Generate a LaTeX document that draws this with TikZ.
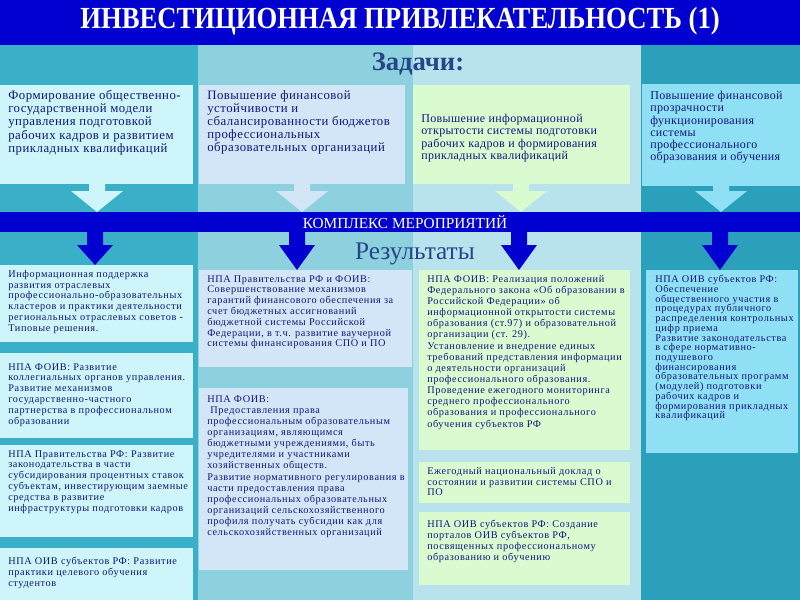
\documentclass[tikz,border=0pt]{standalone}
\usepackage{fontspec}
\usepackage{graphicx}
\setmainfont{Liberation Serif}
\usetikzlibrary{fit,calc}
\definecolor{hdrblue}{RGB}{0,0,208}
\definecolor{colA}{RGB}{58,176,200}
\definecolor{colB}{RGB}{141,208,222}
\definecolor{colC}{RGB}{185,227,236}
\definecolor{colD}{RGB}{43,160,187}
\definecolor{boxA}{RGB}{206,245,249}
\definecolor{boxB}{RGB}{210,230,247}
\definecolor{boxC}{RGB}{218,250,208}
\definecolor{boxD}{RGB}{143,224,244}
\definecolor{navy}{RGB}{16,22,125}
\definecolor{headnavy}{RGB}{38,70,138}
\newcommand\myBlockArrow[7]{\fill[#1] (#2-#6,#3) -- (#2+#6,#3) -- (#2+#6,#4) -- (#2+#7,#4) -- (#2,#5) -- (#2-#7,#4) -- (#2-#6,#4) -- cycle;}
\tikzset{
  panel/.style={inner sep=0pt, outer sep=0pt, draw=none},
  ttext/.style={anchor=north west, inner sep=0pt, align=left, text=navy,
    font=\fontsize{9.6}{9.9}\selectfont\addfontfeature{LetterSpace=4}},
  tsmall/.style={anchor=north west, inner sep=0pt, align=left, text=navy,
    font=\fontsize{9}{9.2}\selectfont\addfontfeature{LetterSpace=3}},
  rtext/.style={anchor=north west, inner sep=0pt, align=left, text=navy,
    font=\fontsize{7.7}{8.1}\selectfont\addfontfeature{LetterSpace=6}},
}
\begin{document}
\begin{tikzpicture}[x=0.75pt,y=-0.75pt]
\useasboundingbox (0,0) rectangle (800,600);
% column backgrounds
\fill[colA] (0,45) rectangle (198,600);
\fill[colB] (198,45) rectangle (413,600);
\fill[colC] (413,45) rectangle (641,600);
\fill[colD] (641,45) rectangle (800,600);
% title
\node[panel, fill=hdrblue, fit={(0,0)(800,45)}] (title) {};
\node[text=white, font=\bfseries\fontsize{23}{23}\selectfont] (titletext) at (400,21)
  {\scalebox{0.87}[1]{ИНВЕСТИЦИОННАЯ ПРИВЛЕКАТЕЛЬНОСТЬ (1)}};
\node[text=headnavy, font=\bfseries\fontsize{20}{20}\selectfont] (tasks) at (418,64) {Задачи:};
% task boxes
\node[panel, fill=boxA, fit={(0,85)(193,184)}] (t1) {};
\node[panel, fill=boxB, fit={(199,85)(405,184)}] (t2) {};
\node[panel, fill=boxC, fit={(413,85)(630,184)}] (t3) {};
\node[panel, fill=boxD, fit={(642,84)(800,186)}] (t4) {};
\node[ttext] (t1x) at (8,90) {Формирование общественно-\\государственной модели\\управления подготовкой\\рабочих кадров и развитием\\прикладных квалификаций};
\node[ttext] (t2x) at (207,90) {Повышение финансовой\\устойчивости и\\сбалансированности бюджетов\\профессиональных\\образовательных организаций};
\node[tsmall] (t3x) at (421,114) {Повышение информационной\\открытости системы подготовки\\рабочих кадров и формирования\\прикладных квалификаций};
\node[tsmall] (t4x) at (650,91) {Повышение финансовой\\прозрачности\\функционирования\\системы\\профессионального\\образования и обучения};
% white arrows
\myBlockArrow{boxA}{97}{184}{191}{212}{8}{26}
\myBlockArrow{boxB}{302}{184}{191}{212}{8}{26}
\myBlockArrow{boxC}{521}{184}{191}{212}{8}{26}
\myBlockArrow{boxD}{721}{186}{191}{212}{8}{26}
% band
\node[panel, fill=hdrblue, fit={(0,212)(800,232)}] (band) {};
\node[text=white, font=\fontsize{11.5}{11.5}\selectfont] (bandtext) at (405,222) {КОМПЛЕКС МЕРОПРИЯТИЙ};
% blue arrows
\myBlockArrow{hdrblue}{95}{232}{245}{265}{8}{18}
\myBlockArrow{hdrblue}{297}{232}{245}{270}{8}{18}
\myBlockArrow{hdrblue}{519}{232}{245}{270}{8}{18}
\myBlockArrow{hdrblue}{720}{232}{245}{270}{8}{18}
\node[text=headnavy, font=\fontsize{19}{19}\selectfont] (results) at (415,254) {Результаты};
% result boxes column 1
\node[panel, fill=boxA, fit={(0,265)(193,342)}] (r1a) {};
\node[panel, fill=boxA, fit={(0,353)(193,438)}] (r1b) {};
\node[panel, fill=boxA, fit={(0,445)(193,537)}] (r1c) {};
\node[panel, fill=boxA, fit={(0,548)(193,600)}] (r1d) {};
\node[rtext] at (8,270) {Информационная поддержка\\развития отраслевых\\профессионально-образовательных\\кластеров и практики деятельности\\региональных отраслевых советов -\\Типовые решения.};
\node[rtext] at (8,363) {НПА ФОИВ: Развитие\\коллегиальных органов управления.\\Развитие механизмов\\государственно-частного\\партнерства в профессиональном\\образовании};
\node[rtext] at (8,450) {НПА Правительства РФ: Развитие\\законодательства в части\\субсидирования процентных ставок\\субъектам, инвестирующим заемные\\средства в развитие\\инфраструктуры подготовки кадров};
\node[rtext] at (8,557) {НПА ОИВ субъектов РФ: Развитие\\практики целевого обучения\\студентов};
% column 2
\node[panel, fill=boxB, fit={(199,270)(412,367)}] (r2a) {};
\node[panel, fill=boxB, fit={(199,388)(408,570)}] (r2b) {};
\node[rtext] at (207,275) {НПА Правительства РФ и ФОИВ:\\Совершенствование механизмов\\гарантий финансового обеспечения за\\счет бюджетных ассигнований\\бюджетной системы Российской\\Федерации, в т.ч. развитие ваучерной\\системы финансирования СПО и ПО};
\node[rtext, font=\fontsize{7.7}{8.35}\selectfont\addfontfeature{LetterSpace=6}] at (207,395) {НПА ФОИВ:\\\ Предоставления права\\профессиональным образовательным\\организациям, являющимся\\бюджетными учреждениями, быть\\учредителями и участниками\\хозяйственных обществ.\\Развитие нормативного регулирования в\\части предоставления права\\профессиональных образовательных\\организаций сельскохозяйственного\\профиля получать субсидии как для\\сельскохозяйственных организаций};
% column 3
\node[panel, fill=boxC, fit={(419,270)(630,450)}] (r3a) {};
\node[panel, fill=boxC, fit={(419,462)(630,503)}] (r3b) {};
\node[panel, fill=boxC, fit={(419,512)(630,585)}] (r3c) {};
\node[rtext, font=\fontsize{7.7}{8.35}\selectfont\addfontfeature{LetterSpace=6}] at (427,275) {НПА ФОИВ: Реализация положений\\Федерального закона «Об образовании в\\Российской Федерации» об\\информационной открытости системы\\образования (ст.97) и образовательной\\организации (ст. 29).\\Установление и внедрение единых\\требований представления информации\\о деятельности организаций\\профессионального образования.\\Проведение ежегодного мониторинга\\среднего профессионального\\образования и профессионального\\обучения субъектов РФ};
\node[rtext] at (427,467) {Ежегодный национальный доклад о\\состоянии и развитии системы СПО и\\ПО};
\node[rtext] at (427,520) {НПА ОИВ субъектов РФ: Создание\\порталов ОИВ субъектов РФ,\\посвященных профессиональному\\образованию и обучению};
% column 4
\node[panel, fill=boxD, fit={(646,270)(798,453)}] (r4) {};
\node[rtext, font=\fontsize{7.7}{7.3}\selectfont\addfontfeature{LetterSpace=6}] at (655,275) {НПА ОИВ субъектов РФ:\\Обеспечение\\общественного участия в\\процедурах публичного\\распределения контрольных\\цифр приема\\Развитие законодательства\\в сфере нормативно-\\подушевого\\финансирования\\образовательных программ\\(модулей) подготовки\\рабочих кадров и\\формирования прикладных\\квалификаций};
\end{tikzpicture}
\end{document}
